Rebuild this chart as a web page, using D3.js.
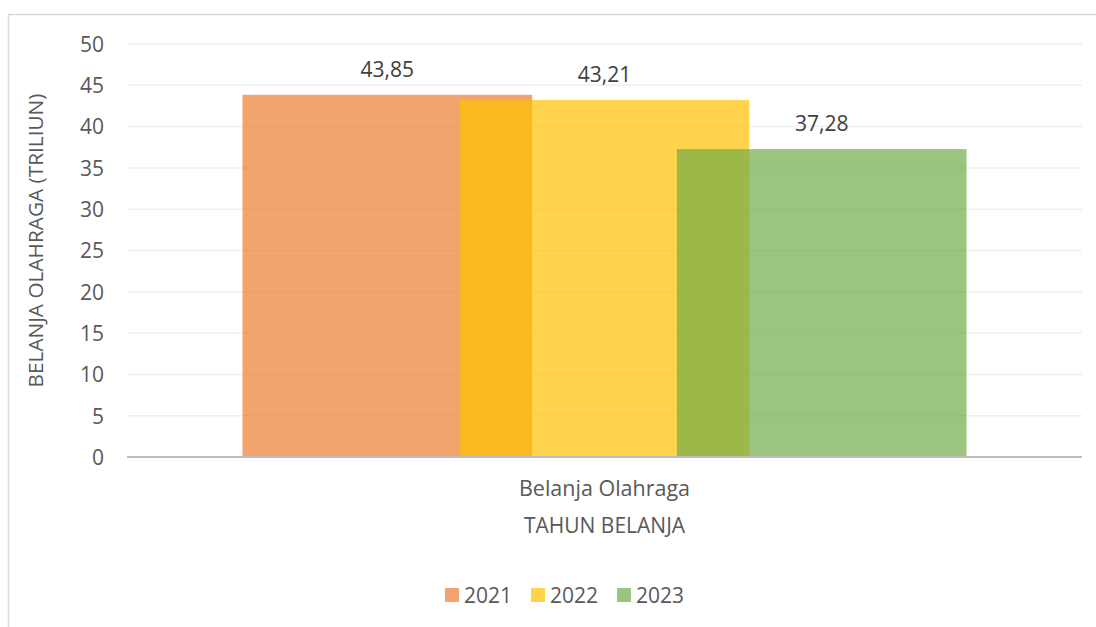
<!DOCTYPE html>
<meta charset="utf-8">
<style>
    body { margin: 0; background: #fff; }
    text { font-family: "Open Sans", "Noto Sans", sans-serif; }
    .axis--y path, .axis--y line { display: none; }
    .axis--y text { fill: #595959; font-size: 21px; }
    .grid line { stroke: #efefef; stroke-width: 1.5; }
</style>

<body>
    <svg width="1096" height="627"></svg>
    <script src="https://d3js.org/d3.v7.min.js"></script>
    <script>
        var categories = ["Belanja Olahraga"];
        var years = ["2021", "2022", "2023"];
        var values = [43.85, 43.21, 37.28];
        var labels = ["43,85", "43,21", "37,28"];
        var colors = ["#ED7D31", "#FFC000", "#70AD47"];
        var yTicks = [0, 5, 10, 15, 20, 25, 30, 35, 40, 45, 50];

        var svg = d3.select("svg"),
            margin = { top: 44, right: 14, bottom: 170, left: 127 },
            width = +svg.attr("width") - margin.left - margin.right,
            height = +svg.attr("height") - margin.top - margin.bottom;

        // chart frame (right and bottom edges fall outside the picture)
        svg.append("rect")
            .attr("x", 8.5).attr("y", 14.5)
            .attr("width", 1100).attr("height", 640)
            .attr("fill", "none")
            .attr("stroke", "#d9d9d9")
            .attr("stroke-width", 1.5);

        var g = svg.append("g")
            .attr("transform", "translate(" + margin.left + "," + margin.top + ")");

        var x0 = d3.scaleBand().domain(categories).range([0, width])
            .paddingInner(0).paddingOuter(0.1595);
        var y = d3.scaleLinear().domain([0, 50]).range([height, 0]);

        // overlapping bars: 25% overlap
        var overlap = 0.25;
        var barW = x0.bandwidth() / (years.length - (years.length - 1) * overlap);
        var x1 = d3.scalePoint().domain(years).range([barW / 2, x0.bandwidth() - barW / 2]);

        // gridlines
        g.append("g")
            .attr("class", "grid")
            .selectAll("line")
            .data(yTicks.filter(function (d) { return d > 0; }))
            .enter().append("line")
            .attr("x1", 0).attr("x2", width)
            .attr("y1", function (d) { return y(d); })
            .attr("y2", function (d) { return y(d); });

        var yAxis = g.append("g")
            .attr("class", "axis axis--y")
            .call(d3.axisLeft(y).tickValues(yTicks).tickSize(0).tickPadding(23));
        yAxis.selectAll("text").attr("dy", "0.35em");

        var series = years.map(function (yr, i) {
            return { year: yr, value: values[i], label: labels[i], color: colors[i] };
        });

        var cat = g.append("g")
            .attr("transform", "translate(" + x0(categories[0]) + ",0)");

        cat.selectAll(".bar")
            .data(series)
            .enter().append("rect")
            .attr("class", "bar")
            .attr("x", function (d) { return x1(d.year) - barW / 2; })
            .attr("y", function (d) { return y(d.value); })
            .attr("width", barW)
            .attr("height", function (d) { return height - y(d.value); })
            .attr("fill", function (d) { return d.color; })
            .attr("fill-opacity", 0.7);

        cat.selectAll(".label")
            .data(series)
            .enter().append("text")
            .attr("class", "label")
            .attr("x", function (d) { return x1(d.year); })
            .attr("y", function (d) { return y(d.value) - 18; })
            .attr("text-anchor", "middle")
            .attr("fill", "#404040")
            .style("font-size", "21px")
            .text(function (d) { return d.label; });

        // x axis line
        g.append("line")
            .attr("x1", 0).attr("x2", width)
            .attr("y1", height).attr("y2", height)
            .attr("stroke", "#bfbfbf")
            .attr("stroke-width", 2);

        g.append("text")
            .attr("x", x0(categories[0]) + x0.bandwidth() / 2)
            .attr("y", height + 39)
            .attr("text-anchor", "middle")
            .attr("fill", "#595959")
            .style("font-size", "21.5px")
            .text(categories[0]);

        // axis titles
        g.append("text")
            .attr("x", width / 2)
            .attr("y", height + 76)
            .attr("text-anchor", "middle")
            .attr("fill", "#595959")
            .style("font-size", "21px")
            .text("TAHUN BELANJA");

        g.append("text")
            .attr("transform", "translate(" + (43 - margin.left) + "," + (height / 2 - 10) + ") rotate(-90)")
            .attr("text-anchor", "middle")
            .attr("fill", "#595959")
            .style("font-size", "20.8px")
            .text("BELANJA OLAHRAGA (TRILIUN)");

        // legend
        var legend = svg.append("g")
            .attr("transform", "translate(445,588)");
        var item = legend.selectAll(".item")
            .data(series)
            .enter().append("g")
            .attr("class", "item")
            .attr("transform", function (d, i) { return "translate(" + (i * 86) + ",0)"; });
        item.append("rect")
            .attr("width", 14).attr("height", 14)
            .attr("fill", function (d) { return d.color; })
            .attr("fill-opacity", 0.7);
        item.append("text")
            .attr("x", 19).attr("y", 14.5)
            .attr("fill", "#595959")
            .style("font-size", "21px")
            .text(function (d) { return d.year; });
    </script>
</body>
